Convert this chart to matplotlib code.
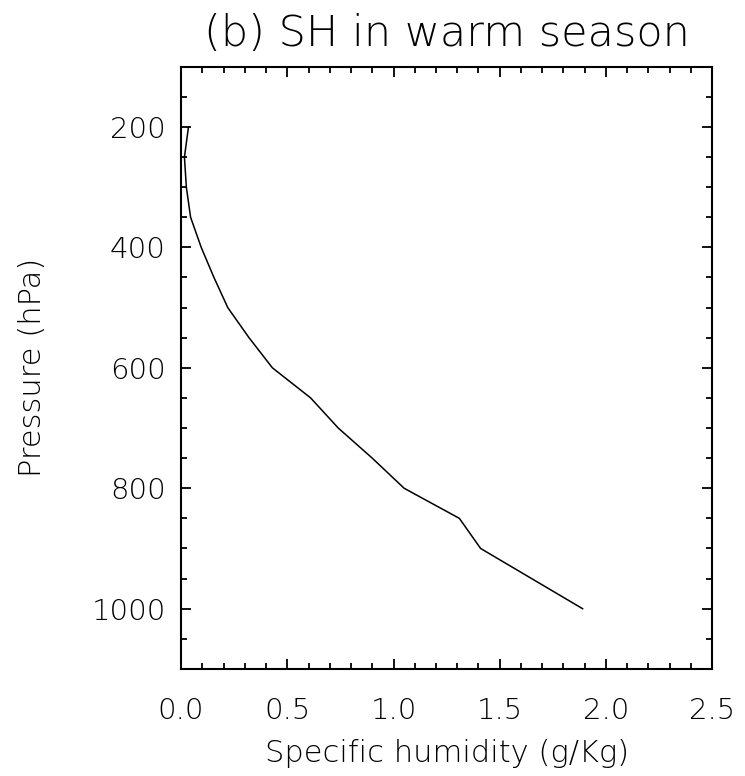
import numpy as np
import matplotlib.pyplot as plt
from matplotlib.ticker import MultipleLocator

# specific humidity profile, warm season
pressure = [1000, 950, 900, 850, 800, 750, 700, 650, 600, 550, 500,
            450, 400, 350, 300, 250, 200]
sh = [1.89, 1.65, 1.41, 1.31, 1.05, 0.90, 0.74, 0.61, 0.43, 0.32, 0.22,
      0.155, 0.095, 0.045, 0.025, 0.016, 0.035]

x_ticks = [0.0, 0.5, 1.0, 1.5, 2.0, 2.5]
y_ticks = [200, 400, 600, 800, 1000]

plt.rcParams['font.family'] = 'DejaVu Sans'
plt.rcParams['font.weight'] = 'light'
plt.rcParams['axes.titleweight'] = 'light'
plt.rcParams['axes.labelweight'] = 'light'

fig = plt.figure(figsize=(7.45, 7.76), dpi=100)
ax = fig.add_axes([0.243, 0.138, 0.713, 0.776])

ax.plot(sh, pressure, color='black', lw=1.1)

ax.set_xlim(0, 2.5)
ax.set_ylim(1100, 100)
ax.set_xticks(x_ticks)
ax.set_xticklabels(['%.1f' % v for v in x_ticks])
ax.set_yticks(y_ticks)
ax.xaxis.set_minor_locator(MultipleLocator(0.1))
ax.yaxis.set_minor_locator(MultipleLocator(50))

ax.tick_params(which='both', direction='in', top=True, right=True,
               width=1.3, labelsize=21, colors='black')
ax.tick_params(which='major', length=7.5)
ax.tick_params(which='minor', length=4)
ax.tick_params(axis='x', pad=20)
ax.tick_params(axis='y', pad=11)
for s in ax.spines.values():
    s.set_linewidth(1.5)

ax.set_xlabel('Specific humidity (g/Kg)', fontsize=22, labelpad=10)
ax.set_ylabel('Pressure (hPa)', fontsize=22, labelpad=32)
ax.set_title('(b) SH in warm season', fontsize=31, pad=15)

fig.savefig('out.png', dpi=100)
